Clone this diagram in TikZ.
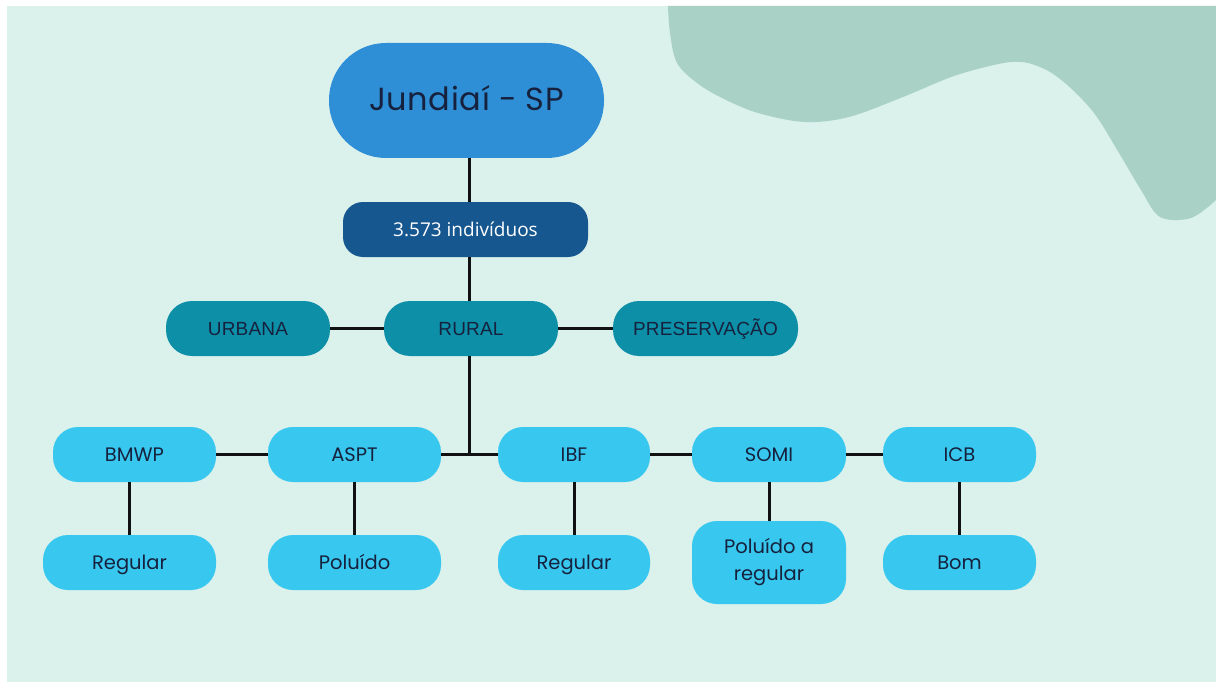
\documentclass[tikz,border=0pt]{standalone}
\usepackage{fontspec}
\setmainfont{Poppins}
\newfontfamily\zonefont{Liberation Sans}
\newfontfamily\countfont{Open Sans}
\usetikzlibrary{calc}

\definecolor{bgmint}{HTML}{DAF1EC}
\definecolor{blobgreen}{HTML}{AAD1C5}
\definecolor{rootblue}{HTML}{2F8FD6}
\definecolor{countblue}{HTML}{175790}
\definecolor{zoneteal}{HTML}{0E8FA8}
\definecolor{leafblue}{HTML}{38C8EF}
\definecolor{inknavy}{HTML}{16213D}
\definecolor{wire}{HTML}{111111}

\tikzset{
  box/.style={rectangle, inner sep=0pt, align=center, text=inknavy},
  rootbox/.style={box, fill=rootblue, rounded corners=57pt,
    minimum width=275pt, minimum height=115pt,
    text height=22pt, text depth=1pt,
    font=\fontsize{32}{38}\selectfont\addfontfeatures{LetterSpace=2}},
  countbox/.style={box, fill=countblue, text=white, rounded corners=20pt,
    minimum width=245pt, minimum height=55pt,
    text height=13.5pt, text depth=0pt,
    font=\countfont\fontsize{19}{22}\selectfont},
  zonebox/.style={box, fill=zoneteal, rounded corners=26pt,
    minimum height=55pt, text height=13.5pt, text depth=0pt,
    font=\zonefont\fontsize{19}{22}\selectfont\addfontfeatures{LetterSpace=1}},
  leafbox/.style={box, fill=leafblue, rounded corners=25pt,
    minimum height=55pt,
    font=\fontsize{19.5}{27}\selectfont},
  oneline/.style={text height=14pt, text depth=0pt},
  link/.style={draw=wire, line width=3pt}
}

\begin{document}
\begin{tikzpicture}[x=1pt, y=-1pt]
  % page and backdrop
  \useasboundingbox (0,0) rectangle (1216,682);
  \fill[white] (0,0) rectangle (1216,682);
  \fill[bgmint] (7,6) rectangle (1216,682);

  % decorative wave in the upper right corner
  \fill[blobgreen] plot[smooth, tension=0.55] coordinates {
      (668,6) (670,33) (677,63) (697,83) (722,98) (758,113) (805,122)
      (849,117) (903,97) (957,75) (1011,62) (1040,67) (1065,83)
      (1094,113) (1119,153) (1141,190) (1160,217) (1191,218) (1216,200)}
    -- (1216,6) -- cycle;

  % trunk position
  \coordinate (trunk) at (469,0);

  % nodes
  \node[rootbox]  (jund) at (466.5,100.5) {Jundiaí - SP};
  \node[countbox] (ind)  at (465.5,229.5) {3.573 indivíduos};

  \node[zonebox, minimum width=164pt] (urb)  at (248,328.5)   {URBANA};
  \node[zonebox, minimum width=174pt] (rur)  at (471,328.5)   {RURAL};
  \node[zonebox, minimum width=185pt] (pres) at (705.5,328.5) {PRESERVAÇÃO};

  \node[leafbox, oneline, minimum width=163pt] (bmwp) at (134.5,454.5) {BMWP};
  \node[leafbox, oneline, minimum width=173pt] (aspt) at (354.5,454.5) {ASPT};
  \node[leafbox, oneline, minimum width=152pt] (ibf)  at (574,454.5)   {IBF};
  \node[leafbox, oneline, minimum width=154pt] (somi) at (769,454.5)   {SOMI};
  \node[leafbox, oneline, minimum width=153pt] (icb)  at (959.5,454.5) {ICB};

  \node[leafbox, oneline, minimum width=173pt] (r1)   at (129.5,562.5) {Regular};
  \node[leafbox, oneline, minimum width=173pt] (pol)  at (354.5,562.5) {Poluído};
  \node[leafbox, oneline, minimum width=152pt] (r2)   at (574,562.5)   {Regular};
  \node[leafbox, minimum width=154pt, minimum height=83pt] (polr) at (769,562.5) {Poluído a\\regular};
  \node[leafbox, oneline, minimum width=153pt] (bom)  at (959.5,562.5) {Bom};

  % connectors
  \draw[link] (jund.south -| trunk) -- (ind.north -| trunk);
  \draw[link] (ind.south -| trunk) -- (rur.north -| trunk);
  \draw[link] (urb.east) -- (rur.west);
  \draw[link] (rur.east) -- (pres.west);
  \draw[link] (rur.south -| trunk) -- (aspt.east -| trunk);
  \draw[link] (bmwp.east) -- (aspt.west);
  \draw[link] (aspt.east) -- (ibf.west);
  \draw[link] (ibf.east) -- (somi.west);
  \draw[link] (somi.east) -- (icb.west);

  \draw[link] (bmwp.south -| r1)  -- (r1.north);
  \draw[link] (aspt.south -| pol) -- (pol.north);
  \draw[link] (ibf.south -| r2)   -- (r2.north);
  \draw[link] (somi.south -| polr) -- (polr.north);
  \draw[link] (icb.south -| bom)  -- (bom.north);
\end{tikzpicture}
\end{document}
